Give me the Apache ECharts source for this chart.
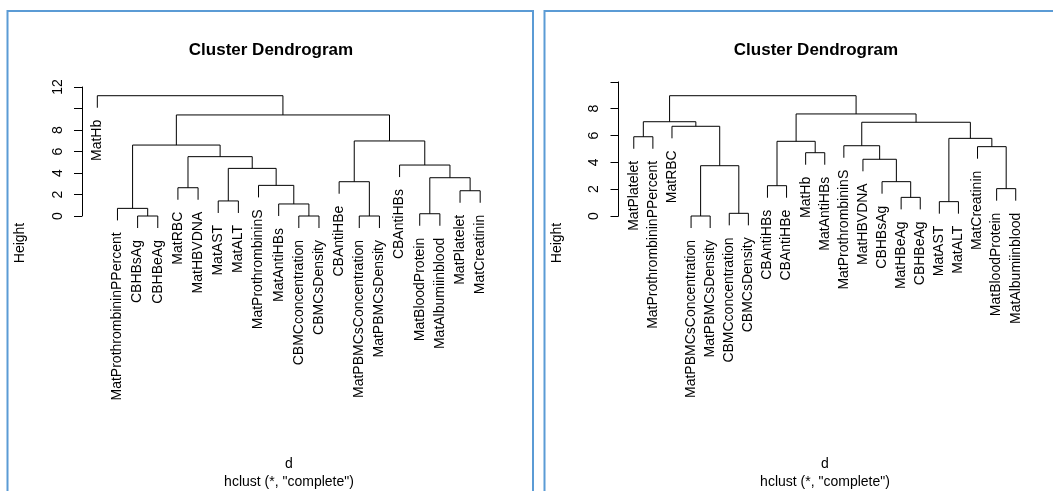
<!DOCTYPE html>
<html>
<head>
<meta charset="utf-8">
<script src="https://cdn.jsdelivr.net/npm/echarts@6/dist/echarts.min.js"></script>
<style>
  html, body { margin: 0; padding: 0; background: #fff; }
  #chart { width: 1053px; height: 491px; }
</style>
</head>
<body>
<div id="chart"></div>
<script>
// Two complete-linkage dendrograms. Leaves are listed left to right; in a merge,
// a negative entry is a leaf (1-based position in the leaf list) and a positive
// entry is an earlier merge (1-based row of the merge list).
const leftLeaves = [
  'MatHb', 'MatProthrombininPPercent', 'CBHBsAg', 'CBHBeAg', 'MatRBC', 'MatHBVDNA',
  'MatAST', 'MatALT', 'MatProthrombininS', 'MatAntiHBs', 'CBMCconcentration',
  'CBMCsDensity', 'CBAntiHBe', 'MatPBMCsConcentration', 'MatPBMCsDensity',
  'CBAntiHBs', 'MatBloodProtein', 'MatAlbumiinblood', 'MatPlatelet', 'MatCreatinin'
];
const leftMerges = [
  [-3, -4], [-11, -12], [-14, -15], [-17, -18], [-2, 1], [-10, 2], [-7, -8],
  [-19, -20], [-5, -6], [-9, 6], [-13, 3], [4, 8], [7, 10], [-16, 12], [9, 13],
  [5, 15], [11, 14], [16, 17], [-1, 18]
];
const leftHeights = [
  0.00, 0.00, 0.00, 0.21, 0.71, 1.12, 1.40, 2.35, 2.63, 2.85, 3.19, 3.56, 4.43,
  4.74, 5.52, 6.60, 6.98, 9.40, 11.19
];

const rightLeaves = [
  'MatPlatelet', 'MatProthrombininPPercent', 'MatRBC', 'MatPBMCsConcentration',
  'MatPBMCsDensity', 'CBMCconcentration', 'CBMCsDensity', 'CBAntiHBs', 'CBAntiHBe',
  'MatHb', 'MatAntiHBs', 'MatProthrombininS', 'MatHBVDNA', 'CBHBsAg', 'MatHBeAg',
  'CBHBeAg', 'MatAST', 'MatALT', 'MatCreatinin', 'MatBloodProtein', 'MatAlbumiinblood'
];
const rightMerges = [
  [-4, -5], [-6, -7], [-17, -18], [-15, -16], [-20, -21], [-8, -9], [-14, 4],
  [1, 2], [-13, 7], [-10, -11], [-19, 5], [-12, 9], [6, 10], [3, 11], [-1, -2],
  [-3, 8], [12, 14], [15, 16], [13, 17], [18, 19]
];
const rightHeights = [
  0.00, 0.20, 1.07, 1.39, 2.04, 2.26, 2.56, 3.75, 4.23, 4.72, 5.17, 5.24, 5.57,
  5.79, 5.91, 6.69, 6.99, 7.03, 7.61, 8.97
];

const leftTicks = [0, 2, 4, 6, 8, 10, 12];
const rightTicks = [0, 2, 4, 6, 8, 10];
const hiddenTickLabels = [10];

const mainTitle = 'Cluster Dendrogram';
const xLabel = 'd';
const subLabel = 'hclust (*, "complete")';
const yLabel = 'Height';

// ---- layout (pixels) ----
const FONT = '"Liberation Sans", Arial, sans-serif';
const panels = [
  { leaves: leftLeaves, merges: leftMerges, heights: leftHeights, ticks: leftTicks,
    plotLeft: 82, plotRight: 495.5, axisTopY: 87, zeroY: 216,
    titleX: 271, xlabX: 289, heightX: 20 },
  { leaves: rightLeaves, merges: rightMerges, heights: rightHeights, ticks: rightTicks,
    plotLeft: 618.5, plotRight: 1031, axisTopY: 81.9, zeroY: 216,
    titleX: 816, xlabX: 825, heightX: 557 }
];

// Turns a merge table into drawable branches: [xLeft, xRight, height, yLeftEnd, yRightEnd]
function buildTree(leaves, merges, heights) {
  const hang = 0.1 * (Math.max(...heights) - Math.min(...heights));
  const mergeX = [];
  const leafBottom = new Array(leaves.length);
  const branches = merges.map((m, i) => {
    const h = heights[i];
    const xs = m.map(c => (c < 0 ? -c : mergeX[c - 1]));
    const ys = m.map(c => (c < 0 ? h - hang : heights[c - 1]));
    m.forEach(c => { if (c < 0) leafBottom[-c - 1] = h - hang; });
    mergeX[i] = (xs[0] + xs[1]) / 2;
    return [xs[0], xs[1], h, ys[0], ys[1]];
  });
  const leafPoints = leaves.map((_, i) => [i + 1, leafBottom[i]]);
  return { branches, leafPoints };
}

const grids = [], xAxes = [], yAxes = [], series = [], graphics = [];

panels.forEach((p, k) => {
  const n = p.leaves.length;
  const tree = buildTree(p.leaves, p.merges, p.heights);
  const yMax = p.ticks[p.ticks.length - 1];

  grids.push({
    left: p.plotLeft, top: p.axisTopY,
    width: p.plotRight - p.plotLeft, height: p.zeroY - p.axisTopY,
    containLabel: false
  });
  xAxes.push({
    gridIndex: k, type: 'value', show: false,
    min: 1 - 0.04 * (n - 1), max: n + 0.04 * (n - 1)
  });
  yAxes.push({
    gridIndex: k, type: 'value', min: 0, max: yMax, interval: 2,
    axisLine: { show: true, onZero: false, lineStyle: { color: '#000', width: 1 } },
    axisTick: { show: true, length: 8, inside: false, lineStyle: { color: '#000', width: 1 } },
    axisLabel: {
      show: true, rotate: 90, margin: 17, color: '#000', fontSize: 14, fontFamily: FONT,
      formatter: v => (hiddenTickLabels.includes(v) ? '' : String(v))
    },
    splitLine: { show: false }
  });

  // Branches of the tree
  series.push({
    type: 'custom', xAxisIndex: k, yAxisIndex: k, clip: false, silent: true,
    data: tree.branches,
    encode: { x: [0, 1], y: [2, 3, 4] },
    renderItem: (params, api) => {
      const xa = api.value(0), xb = api.value(1), h = api.value(2);
      const ya = api.value(3), yb = api.value(4);
      return {
        type: 'polyline',
        shape: { points: [api.coord([xa, ya]), api.coord([xa, h]), api.coord([xb, h]), api.coord([xb, yb])] },
        style: { stroke: '#000', lineWidth: 1, fill: null }
      };
    }
  });

  // Leaf names, reading upwards, hung just below each leaf's end
  series.push({
    type: 'custom', xAxisIndex: k, yAxisIndex: k, clip: false, silent: true,
    data: tree.leafPoints,
    encode: { x: 0, y: 1 },
    renderItem: (params, api) => {
      const pt = api.coord([api.value(0), api.value(1)]);
      return {
        type: 'text', x: pt[0], y: pt[1] + 12, rotation: Math.PI / 2,
        style: {
          text: p.leaves[params.dataIndex], fill: '#000', fontSize: 14, fontFamily: FONT,
          align: 'right', verticalAlign: 'middle'
        }
      };
    }
  });

  graphics.push(
    { type: 'text', x: p.titleX, y: 50,
      style: { text: mainTitle, fill: '#000', fontSize: 17, fontWeight: 'bold', fontFamily: FONT,
               align: 'center', verticalAlign: 'middle' } },
    { type: 'text', x: p.heightX, y: 243, rotation: Math.PI / 2,
      style: { text: yLabel, fill: '#000', fontSize: 14, fontFamily: FONT,
               align: 'center', verticalAlign: 'middle' } },
    { type: 'text', x: p.xlabX, y: 464,
      style: { text: xLabel, fill: '#000', fontSize: 14, fontFamily: FONT,
               align: 'center', verticalAlign: 'middle' } },
    { type: 'text', x: p.xlabX, y: 482,
      style: { text: subLabel, fill: '#000', fontSize: 14, fontFamily: FONT,
               align: 'center', verticalAlign: 'middle' } }
  );
});

// Frames around the two figures
graphics.push(
  { type: 'rect', shape: { x: 7.5, y: 11, width: 525.5, height: 500 },
    style: { fill: null, stroke: '#5b9bd5', lineWidth: 2 }, z: 10 },
  { type: 'rect', shape: { x: 544.5, y: 11, width: 520, height: 500 },
    style: { fill: null, stroke: '#5b9bd5', lineWidth: 2 }, z: 10 }
);

const chart = echarts.init(document.getElementById('chart'), null, { renderer: 'canvas' });
chart.setOption({
  backgroundColor: '#fff',
  animation: false,
  grid: grids,
  xAxis: xAxes,
  yAxis: yAxes,
  series: series,
  graphic: graphics
});
</script>
</body>
</html>
